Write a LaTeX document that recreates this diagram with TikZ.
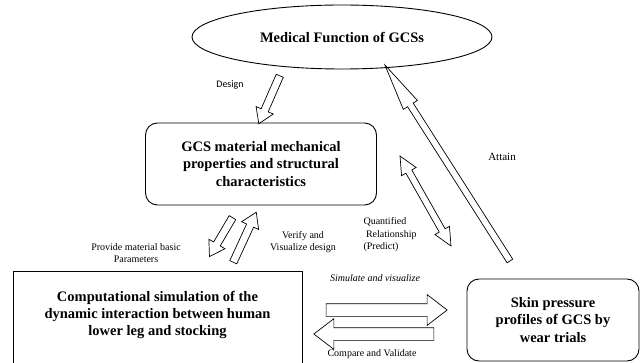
\documentclass[tikz,border=0pt]{standalone}
\usepackage{fontspec}
\setmainfont{Liberation Serif}
\newfontfamily\designfont{Carlito}
\usetikzlibrary{shapes.geometric,shapes.arrows,calc}

\tikzset{
  box/.style={draw, line width=0.9pt, align=center,
    font=\bfseries\fontsize{14.5}{17.5}\selectfont},
  lbl/.style={align=center, font=\fontsize{10}{12.5}\selectfont},
  hollow/.style={draw, line width=0.7pt, single arrow, inner xsep=0pt,
    inner ysep=3.5pt, single arrow head extend=5.5pt, single arrow tip angle=65},
  hollowtwo/.style={draw, line width=0.7pt, double arrow, inner xsep=0pt,
    inner ysep=3pt, double arrow head extend=5pt, double arrow tip angle=50}
}
% block arrow from #2 to #3
\newcommand{\blockarrow}[3][hollow]{%
  \path let \p1=($(#3)-(#2)$), \n1={veclen(\x1,\y1)} in
    (#2) -- node[#1, sloped, allow upside down, minimum height=\n1] {} (#3);}

\begin{document}
\begin{tikzpicture}[x=1pt,y=-1pt]
  \useasboundingbox (0,0) rectangle (642,363);

  % boxes
  \node[box, ellipse, minimum width=300, minimum height=64, inner sep=0pt] (med) at (342,37) {Medical Function of GCSs};
  \node[box, rounded corners=12pt, minimum width=231, minimum height=82] (mat) at (261,164)
    {GCS material mechanical\\properties and structural\\characteristics};
  \node[box, minimum width=289, minimum height=107] (sim) at (157.5,325) {};
  \node[font=\bfseries\fontsize{14.5}{17}\selectfont, align=center] (simtext) at (157.5,315)
    {Computational simulation of the\\dynamic interaction between human\\lower leg and stocking};
  \node[box, rounded corners=12pt, minimum width=172, minimum height=82] (skin) at (553,320)
    {Skin pressure\\profiles of GCS by\\wear trials};

  % arrow ends
  \coordinate (design1) at (281,73);
  \coordinate (design2) at (260,121);
  \coordinate (prov1) at (234,215);
  \coordinate (prov2) at (211,254);
  \coordinate (ver1) at (232,265);
  \coordinate (ver2) at (255,215);
  \coordinate (quan1) at (400,156);
  \coordinate (quan2) at (451,246);
  \coordinate (att1) at (515,269);
  \coordinate (att2) at (390,73);
  \coordinate (simu1) at (322,310);
  \coordinate (simu2) at (443,310);
  \coordinate (comp1) at (438,334);
  \coordinate (comp2) at (318,334);

  \blockarrow{design1}{design2}
  \blockarrow{prov1}{prov2}
  \blockarrow{ver1}{ver2}
  \blockarrow[hollowtwo]{quan1}{quan2}
  \blockarrow[hollow, inner ysep=3pt, single arrow head extend=5pt, single arrow tip angle=20]{att1}{att2}
  \blockarrow[hollow, inner ysep=6pt, single arrow head extend=9pt, single arrow tip angle=75]{simu1}{simu2}
  \blockarrow[hollow, inner ysep=6pt, single arrow head extend=9pt, single arrow tip angle=75]{comp1}{comp2}

  % labels
  \node[lbl, font=\designfont\fontsize{10}{12}\selectfont] (design) at (230,85) {Design};
  \node[lbl] (prov) at (136,253) {Provide material basic\\Parameters};
  \node[lbl] (ver) at (303,242) {Verify and\\Visualize design};
  \node[lbl, align=left, anchor=west] (quan) at (360,235) {Quantified\\\ Relationship\\(Predict)};
  \node[lbl, font=\fontsize{11}{13}\selectfont] (att) at (502,157) {Attain};
  \node[lbl, font=\itshape\fontsize{10}{12}\selectfont] (simu) at (375,278) {Simulate and visualize};
  \node[lbl] (comp) at (372,354) {Compare and Validate};
\end{tikzpicture}
\end{document}
